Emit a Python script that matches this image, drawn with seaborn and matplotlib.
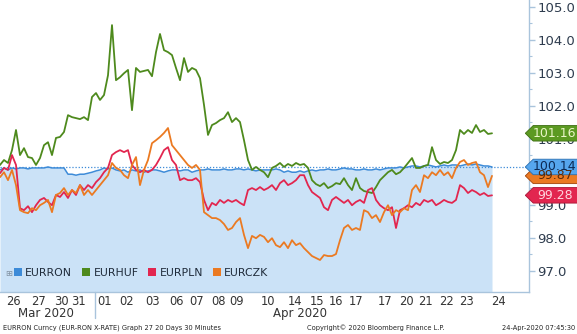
import numpy as np
import pandas as pd
import seaborn as sns
import matplotlib
matplotlib.use("Agg")
import matplotlib.pyplot as plt
from matplotlib.patches import Patch, Polygon
from matplotlib import font_manager as fm
import matplotlib.transforms as mtransforms

# ---------------- data (30-minute bars, 26-Mar-2020 .. 24-Apr-2020) ----------------
eurron = [100.05,100.11,100.05,100.11,100.08,100.11,100.11,100.08,100.11,100.11,
          100.11,100.11,100.14,100.11,100.11,100.11,100.11,99.92,99.92,99.89,
          99.92,99.92,99.95,99.98,100.02,100.05,100.11,100.08,100.11,100.05,
          100.02,100.05,99.98,100.05,100.02,100.05,99.98,100.02,100.05,100.05,
          100.02,99.98,100.02,100.05,100.05,100.02,100.05,100.05,99.98,100.02,
          100.05,100.05,100.08,100.05,100.05,100.05,100.08,100.05,100.05,100.08,
          100.08,100.05,100.08,100.05,100.02,100.05,100.05,100.05,100.05,100.08,
          100.05,99.98,100.02,99.98,99.98,100.02,99.98,100.02,100.05,100.02,
          100.05,100.05,100.08,100.05,100.05,100.08,100.11,100.08,100.08,100.05,
          100.05,100.08,100.05,100.05,100.08,100.05,100.08,100.11,100.11,100.11,
          100.14,100.11,100.14,100.17,100.17,100.14,100.17,100.20,100.17,100.14,
          100.17,100.20,100.17,100.20,100.20,100.17,100.20,100.23,100.20,100.23,
          100.20,100.17,100.17,100.14]
eurhuf = [100.20,100.35,100.26,100.65,101.26,100.50,100.71,100.44,100.41,100.20,
          100.41,100.80,100.89,100.50,101.02,101.05,101.20,101.71,101.65,101.62,
          101.59,101.65,101.56,102.26,102.38,102.17,102.32,102.92,104.44,102.77,
          102.86,102.98,103.08,101.86,103.14,103.02,103.05,103.08,102.89,103.62,
          104.17,103.68,103.62,103.53,103.14,102.77,103.44,103.02,103.14,103.08,
          102.83,102.02,101.11,101.41,101.47,101.56,101.62,101.80,101.50,101.62,
          101.50,100.95,100.35,100.05,100.14,100.05,99.98,99.83,100.11,100.17,
          100.26,100.14,100.23,100.17,100.26,100.20,100.23,100.11,99.74,99.62,
          99.56,99.65,99.50,99.56,99.65,99.62,99.80,99.59,99.44,99.80,
          99.50,99.41,99.38,99.35,99.53,99.74,99.86,99.98,100.05,99.92,
          99.98,100.11,100.26,100.41,100.11,100.11,100.17,100.20,100.74,100.35,
          100.23,100.29,100.26,100.35,100.65,101.26,101.14,101.26,101.17,101.41,
          101.20,101.26,101.14,101.16]
eurpln = [99.95,100.11,100.05,100.50,100.20,98.89,98.83,98.95,98.77,98.98,
          99.14,99.20,99.08,98.98,99.29,99.23,99.38,99.20,99.44,99.29,
          99.59,99.44,99.59,99.50,99.68,99.80,99.98,100.11,100.50,100.59,
          100.65,100.59,100.65,100.20,100.05,99.98,100.05,99.98,100.05,100.20,
          100.41,100.65,100.74,100.35,100.20,99.74,99.80,99.74,99.74,99.80,
          99.68,99.14,98.83,99.05,98.98,99.14,99.05,99.14,99.08,99.14,
          99.05,98.98,99.44,99.50,99.44,99.53,99.44,99.50,99.59,99.44,
          99.65,99.74,99.59,99.65,99.74,99.89,99.89,99.59,99.38,99.29,
          99.20,98.92,98.83,99.14,99.23,99.14,99.05,99.14,98.98,99.08,
          99.14,99.05,99.44,99.50,99.14,98.98,98.89,98.83,98.92,98.29,
          98.83,98.89,98.98,98.92,99.05,98.98,99.14,99.08,99.14,98.98,
          99.05,99.14,99.08,99.05,99.14,99.59,99.50,99.35,99.44,99.38,
          99.29,99.35,99.26,99.28]
eurczk = [99.83,99.98,99.74,100.05,99.59,98.83,98.77,98.74,98.89,98.83,
          98.98,99.05,99.14,98.77,99.29,99.35,99.50,99.29,99.44,99.35,
          99.59,99.29,99.44,99.29,99.44,99.59,99.74,99.89,100.26,100.11,
          100.05,99.89,99.80,100.20,100.44,99.59,100.05,100.35,100.86,100.95,
          101.05,101.17,101.32,100.80,100.65,100.50,100.35,100.20,100.11,100.20,
          100.05,98.77,98.68,98.59,98.59,98.53,98.41,98.23,98.29,98.47,
          98.59,98.08,97.68,98.05,97.98,98.08,98.02,97.86,97.98,97.77,
          97.71,97.86,97.68,97.92,97.77,97.83,97.68,97.56,97.44,97.38,
          97.32,97.47,97.44,97.44,97.50,97.92,98.29,98.38,98.23,98.29,
          98.23,98.83,98.77,98.59,98.68,98.47,98.77,98.98,98.68,98.83,
          98.77,98.89,98.83,99.44,99.59,99.38,99.89,99.80,99.98,99.89,
          100.05,99.89,99.98,99.80,100.11,100.29,100.35,100.20,100.26,100.29,
          99.98,99.89,99.53,99.87]

pairs = ["EURRON", "EURHUF", "EURPLN", "EURCZK"]
last_labels = ["100.14", "101.16", "99.28", "99.87"]
day_labels = ["26", "27", "30", "31", "01", "02", "03", "06", "07", "08", "09",
              "10", "14", "15", "16", "17", "17", "20", "21", "22", "23", "24"]
month_labels = ["Mar 2020", "Apr 2020"]
y_ticks = [97.0, 98.0, 99.0, 100.0, 101.0, 102.0, 103.0, 104.0, 105.0]
footer_left = "EURRON Curncy (EUR-RON X-RATE) Graph 27 20 Days 30 Minutes"
footer_mid = "Copyright\u00a9 2020 Bloomberg Finance L.P."
footer_right = "24-Apr-2020 07:45:30"

# ---------------- layout / style ----------------
day_pos = [3.25, 9.5, 15.25, 19.5, 26.25, 31.75, 38.25, 44.25, 49.25, 54.5, 59.25,
           67, 73.75, 79.25, 84, 89, 96.25, 101.5, 106.25, 111.5, 116.75, 124.5]
month_pos = [11.5, 75.0]
month_break = 23.75
colors = {"EURRON": "#3d8bd8", "EURHUF": "#4e8a1d", "EURPLN": "#e2264f", "EURCZK": "#eb7a22"}
fill_color = "#cbe2f7"
axis_color = "#a9c4dc"

sns.set_style("white")
names = {f.name for f in fm.fontManager.ttflist}
narrow = "Liberation Sans Narrow" if "Liberation Sans Narrow" in names else None
plt.rcParams["font.family"] = ["DejaVu Sans"]

W, H = 577, 334
fig = plt.figure(figsize=(W / 100, H / 100), dpi=100)
ax = fig.add_axes([0, 42 / H, 529 / W, 292 / H])
ax.set_xlim(0, 132.25)
ax.set_ylim(96.35, 105.2)

series = {"EURRON": eurron, "EURHUF": eurhuf, "EURPLN": eurpln, "EURCZK": eurczk}
frames = []
for name in pairs:
    vals = series[name]
    frames.append(pd.DataFrame({"idx": np.arange(len(vals)), "value": vals, "pair": name}))
df = pd.concat(frames, ignore_index=True)

ron = df[df.pair == "EURRON"]
ax.fill_between(ron["idx"], ron["value"], 96.35, color=fill_color, lw=0, zorder=1)
ax.axhline(float(last_labels[0]), color="#3d8bd8", lw=0.9, ls=(0, (1, 1.5)), zorder=2)

for name in pairs:
    sub = df[df.pair == name]
    sns.lineplot(data=sub, x="idx", y="value", color=colors[name],
                 linewidth=1.1 if name == "EURRON" else 1.3, ax=ax, legend=False,
                 zorder=3)

ax.set_xlabel("")
ax.set_ylabel("")

# spines
for s in ["left", "top"]:
    ax.spines[s].set_visible(False)
for s in ["right", "bottom"]:
    ax.spines[s].set_color(axis_color)
    ax.spines[s].set_linewidth(1.0)

# y axis on the right
ax.yaxis.tick_right()
ax.set_yticks(y_ticks)
ax.set_yticklabels([f"{v:.1f}" for v in y_ticks])
ax.set_yticks([v + 0.5 for v in y_ticks[:-1]], minor=True)
ax.tick_params(axis="y", which="major", length=4, width=1, color=axis_color,
               labelsize=9.5, labelcolor="#2e3c4e", pad=2)
ax.tick_params(axis="y", which="minor", length=2.5, width=0.8, color=axis_color)

# x axis
ax.set_xticks(day_pos)
ax.set_xticklabels(day_labels)
ax.tick_params(axis="x", length=0, labelsize=8.3, labelcolor="#333333", pad=2)

bt = mtransforms.blended_transform_factory(ax.transData, ax.transAxes)
for lab, pos in zip(month_labels, month_pos):
    ax.text(pos, -0.072, lab, transform=bt, ha="center", va="center",
            fontsize=8.5, color="#333333")
ax.plot([month_break, month_break], [0, -0.09], transform=bt, color=axis_color,
        lw=1, clip_on=False)

# legend
handles = [Patch(facecolor=colors[n], edgecolor="none") for n in pairs]
leg_kw = dict(family=narrow, size=9.2) if narrow else dict(size=7.8)
leg = ax.legend(handles, pairs, loc="center left",
                bbox_to_anchor=(14 / 529, (292 - 273) / 292), ncol=4, frameon=False,
                handlelength=0.75, handleheight=0.75, handletextpad=0.3,
                columnspacing=0.9, borderpad=0, borderaxespad=0, prop=leg_kw)
for t in leg.get_texts():
    t.set_color("#1f2b3a")
ax.text(9 / 529, (292 - 273) / 292, "\u229e", transform=ax.transAxes, ha="center",
        va="center", fontsize=6, color="#8090a0")

# last-value tags
yt = mtransforms.blended_transform_factory(ax.transAxes, ax.transData)
tag_styles = {
    "EURCZK": ("#eb7a22", "#a0440a", "#5a2a08"),
    "EURRON": ("#56a6ee", "#2a6fb0", "#0c2a55"),
    "EURHUF": ("#5c9a22", "#3d6d12", "#eaf6c8"),
    "EURPLN": ("#e2264f", "#a81535", "#ffd6df"),
}
h = 0.235
for name in ["EURCZK", "EURRON", "EURHUF", "EURPLN"]:
    lab = last_labels[pairs.index(name)]
    v = float(lab)
    fc, ec, tc = tag_styles[name]
    poly = Polygon([(0.993, v), (1.008, v + h), (1.12, v + h), (1.12, v - h), (1.008, v - h)],
                   closed=True, transform=yt, facecolor=fc, edgecolor=ec, lw=0.6,
                   clip_on=False, zorder=6)
    ax.add_patch(poly)
    ax.text(1.049, v, lab, transform=yt, ha="center", va="center", fontsize=9.0,
            color=tc, zorder=7, clip_on=False)

# footer
foot_kw = dict(family=narrow, fontsize=6.3) if narrow else dict(fontsize=4.8)
fig.text(3 / W, (H - 328) / H, footer_left, ha="left", va="center", color="#222222", **foot_kw)
fig.text(307 / W, (H - 328) / H, footer_mid, ha="left", va="center", color="#222222", **foot_kw)
fig.text(575 / W, (H - 328) / H, footer_right, ha="right", va="center", color="#222222", **foot_kw)

fig.savefig("out.png", dpi=100)
